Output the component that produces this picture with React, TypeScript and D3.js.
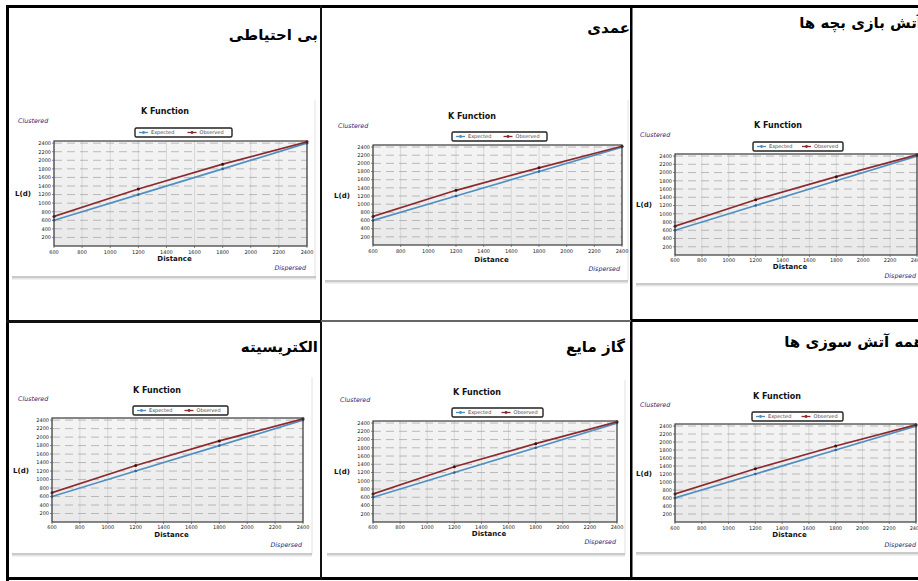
import React from "react";
import * as d3 from "d3";

// ---------- data ----------
const panelTitles = ["بی احتیاطی", "عمدی", "آتش بازی بچه ها", "الکتریسیته", "گاز مایع", "همه آتش سوزی ها"];
const chartTitle = "K Function";
const seriesNames = ["Expected", "Observed"];
const xAxisLabel = "Distance";
const yAxisLabel = "L(d)";
const topNote = "Clustered";
const bottomNote = "Dispersed";

const distances = [600, 1200, 1800, 2400];
const expectedL = [600, 1200, 1800, 2400];
const observedCareless = [690, 1330, 1910, 2430];
const observedIntentional = [700, 1340, 1890, 2420];
const observedFireworks = [700, 1340, 1900, 2430];
const observedElectric = [690, 1330, 1910, 2430];
const observedGas = [680, 1340, 1900, 2430];
const observedAll = [700, 1330, 1900, 2430];
const observedSets = [observedCareless, observedIntentional, observedFireworks, observedElectric, observedGas, observedAll];

const xTicks = [600, 800, 1000, 1200, 1400, 1600, 1800, 2000, 2200, 2400];
const yTicks = [200, 400, 600, 800, 1000, 1200, 1400, 1600, 1800, 2000, 2200, 2400];
const xDomain = [600, 2400];
const yDomain = [0, 2450];

// ---------- layout (positions only) ----------
type Layout = {
  titleX: number; titleY: number;
  kx: number; ky: number;
  clX: number; clY: number;
  legX: number; legY: number; legW: number;
  pl: number; pr: number; pt: number; pb: number;
  xlY: number; dY: number; dispX: number; dispY: number;
  sepY: number; sepX0: number; sepX1: number; cardTop: number; cardR: number;
};

const layouts: Layout[] = [
  { titleX: 318, titleY: 40, kx: 165, ky: 114, clX: 18, clY: 123, legX: 135, legY: 128, legW: 97,
    pl: 54, pr: 307, pt: 141, pb: 246, xlY: 254, dY: 261, dispX: 306, dispY: 270,
    sepY: 277, sepX0: 12, sepX1: 316, cardTop: 100, cardR: 315 },
  { titleX: 630, titleY: 33, kx: 472, ky: 119, clX: 338, clY: 128, legX: 452, legY: 132, legW: 95,
    pl: 373, pr: 622, pt: 145, pb: 245, xlY: 253, dY: 262, dispX: 620, dispY: 271,
    sepY: 281, sepX0: 325, sepX1: 628, cardTop: 100, cardR: 628 },
  { titleX: 922, titleY: 28, kx: 778, ky: 128, clX: 640, clY: 137, legX: 753, legY: 142, legW: 90,
    pl: 675, pr: 917, pt: 154, pb: 255, xlY: 262, dY: 269, dispX: 916, dispY: 278,
    sepY: 284, sepX0: 636, sepX1: 918, cardTop: 110, cardR: 940 },
  { titleX: 318, titleY: 352, kx: 157, ky: 393, clX: 18, clY: 401, legX: 133, legY: 406, legW: 95,
    pl: 52, pr: 303, pt: 418, pb: 522, xlY: 529, dY: 537, dispX: 302, dispY: 547,
    sepY: 554, sepX0: 12, sepX1: 312, cardTop: 377, cardR: 312 },
  { titleX: 625, titleY: 352, kx: 477, ky: 395, clX: 340, clY: 402, legX: 452, legY: 408, legW: 91,
    pl: 373, pr: 617, pt: 421, pb: 522, xlY: 529, dY: 536, dispX: 616, dispY: 544,
    sepY: 554, sepX0: 327, sepX1: 625, cardTop: 380, cardR: 625 },
  { titleX: 924, titleY: 347, kx: 777, ky: 399, clX: 640, clY: 407, legX: 752, legY: 412, legW: 91,
    pl: 675, pr: 916, pt: 424, pb: 522, xlY: 530, dY: 537, dispX: 916, dispY: 547,
    sepY: 553, sepX0: 636, sepX1: 918, cardTop: 385, cardR: 940 },
];

const BLUE = "#4f8fc2";
const RED = "#8c2a2e";
const NAVY = "#23237a";

function Panel({ L, title, observed, idx }: { L: Layout; title: string; observed: number[]; idx: number }) {
  const x = d3.scaleLinear().domain(xDomain).range([L.pl, L.pr]);
  const y = d3.scaleLinear().domain(yDomain).range([L.pb, L.pt]);
  const line = d3.line<[number, number]>().x((d) => x(d[0])).y((d) => y(d[1]));
  const expPts = distances.map((d, i) => [d, expectedL[i]] as [number, number]);
  const obsPts = distances.map((d, i) => [d, observed[i]] as [number, number]);
  const clipId = `clip${idx}`;
  const legH = 9;
  const half = L.legW / 2;
  return (
    <g>
      {/* card */}
      <line x1={L.cardR} x2={L.cardR} y1={L.cardTop} y2={L.sepY} stroke="#e2e2e2" strokeWidth={1} />
      <line x1={L.sepX0} x2={L.sepX1} y1={L.sepY} y2={L.sepY} stroke="#b9b9b9" strokeWidth={1.6} />
      <line x1={L.sepX0} x2={L.sepX1} y1={L.sepY + 1.8} y2={L.sepY + 1.8} stroke="#e4e4e4" strokeWidth={1.5} />

      {/* Persian title */}
      <text x={L.titleX} y={L.titleY} textAnchor="end" fontFamily="DejaVu Sans" fontWeight="bold" fontSize={15} fill="#000">
        {title}
      </text>

      <text x={L.kx} y={L.ky} textAnchor="middle" fontFamily="DejaVu Sans" fontWeight="bold" fontSize={8} fill="#111">
        {chartTitle}
      </text>
      <text x={L.clX} y={L.clY} fontFamily="DejaVu Sans" fontStyle="italic" fontSize={6.3} fill={NAVY}>
        {topNote}
      </text>

      {/* legend */}
      <rect x={L.legX} y={L.legY} width={L.legW} height={legH} rx={1.5} fill="#fff" stroke="#222" strokeWidth={1.4} />
      {[0, 1].map((i) => {
        const lx = L.legX + 4 + i * half;
        const cy = L.legY + legH / 2;
        const c = i === 0 ? BLUE : RED;
        return (
          <g key={i}>
            <line x1={lx} x2={lx + 9} y1={cy} y2={cy} stroke={c} strokeWidth={1.3} />
            <circle cx={lx + 4.5} cy={cy} r={1.4} fill={c} />
            <text x={lx + 12} y={cy + 1.8} fontFamily="DejaVu Sans" fontSize={5} fill="#444">
              {seriesNames[i]}
            </text>
          </g>
        );
      })}

      {/* plot background */}
      <defs>
        <clipPath id={clipId}>
          <rect x={L.pl} y={L.pt} width={L.pr - L.pl} height={L.pb - L.pt} />
        </clipPath>
        <linearGradient id={`bg${idx}`} x1="0" y1="0" x2="0" y2="1">
          <stop offset="0" stopColor="#f4f4f4" />
          <stop offset="1" stopColor="#e9e9e9" />
        </linearGradient>
      </defs>
      <rect x={L.pl} y={L.pt} width={L.pr - L.pl} height={L.pb - L.pt} fill={`url(#bg${idx})`} />
      {xTicks.map((t) => (
        <line key={"vx" + t} x1={x(t)} x2={x(t)} y1={L.pt} y2={L.pb} stroke="#d0d0d0" strokeWidth={0.8} />
      ))}
      {yTicks.map((t) => (
        <line key={"hy" + t} x1={L.pl} x2={L.pr} y1={y(t)} y2={y(t)} stroke="#ababab" strokeWidth={0.8} strokeDasharray="8,5" />
      ))}

      <g clipPath={`url(#${clipId})`}>
        <path d={line(expPts) || ""} fill="none" stroke={BLUE} strokeWidth={1.7} />
        <path d={line(obsPts) || ""} fill="none" stroke={RED} strokeWidth={1.7} />
      </g>
      {expPts.map((p, i) => (
        <circle key={"e" + i} cx={x(p[0])} cy={y(p[1])} r={1.3} fill="#2f5f8a" />
      ))}
      {obsPts.map((p, i) => (
        <circle key={"o" + i} cx={x(p[0])} cy={y(p[1])} r={1.5} fill="#3a1212" />
      ))}

      <rect x={L.pl} y={L.pt} width={L.pr - L.pl} height={L.pb - L.pt} fill="none" stroke="#3a3a3a" strokeWidth={1.2} />

      {/* y ticks */}
      {yTicks.map((t) => (
        <g key={"yt" + t}>
          <line x1={L.pl - 2} x2={L.pl} y1={y(t)} y2={y(t)} stroke="#555" strokeWidth={0.7} />
          <text x={L.pl - 3} y={y(t) + 1.8} textAnchor="end" fontFamily="DejaVu Sans" fontSize={5} fill="#1a1a1a">
            {t}
          </text>
        </g>
      ))}
      <text x={L.pl - 39} y={(L.pt + L.pb) / 2 + 2.5} fontFamily="DejaVu Sans" fontWeight="bold" fontSize={7} fill="#111">
        {yAxisLabel}
      </text>

      {/* x ticks */}
      {xTicks.map((t) => (
        <g key={"xt" + t}>
          <line x1={x(t)} x2={x(t)} y1={L.pb} y2={L.pb + 2} stroke="#555" strokeWidth={0.7} />
          <text x={x(t)} y={L.xlY} textAnchor="middle" fontFamily="DejaVu Sans" fontSize={5} fill="#1a1a1a">
            {t}
          </text>
        </g>
      ))}
      <text x={(L.pl + L.pr) / 2 - 6} y={L.dY} textAnchor="middle" fontFamily="DejaVu Sans" fontWeight="bold" fontSize={7} fill="#111">
        {xAxisLabel}
      </text>
      <text x={L.dispX} y={L.dispY} textAnchor="end" fontFamily="DejaVu Sans" fontStyle="italic" fontSize={6.3} fill={NAVY}>
        {bottomNote}
      </text>
    </g>
  );
}

export default function App() {
  return (
    <div style={{ position: "absolute", left: 0, top: 0 }}>
      <svg width={918} height={581} style={{ display: "block", background: "#fff" }}>
        <rect x={0} y={0} width={918} height={581} fill="#fff" />
        {layouts.map((L, i) => (
          <Panel key={i} L={L} idx={i} title={panelTitles[i]} observed={observedSets[i]} />
        ))}
        {/* table frame */}
        <rect x={6} y={5} width={912} height={3} fill="#000" />
        <rect x={6} y={5} width={3} height={576} fill="#000" />
        <rect x={6} y={577} width={912} height={3} fill="#000" />
        <rect x={320} y={5} width={2} height={575} fill="#111" />
        <rect x={630} y={5} width={2.5} height={575} fill="#000" />
        <rect x={6} y={320} width={315} height={3} fill="#111" />
        <rect x={321} y={320} width={310} height={2} fill="#666" />
        <rect x={631} y={319} width={287} height={3} fill="#000" />
      </svg>
    </div>
  );
}
